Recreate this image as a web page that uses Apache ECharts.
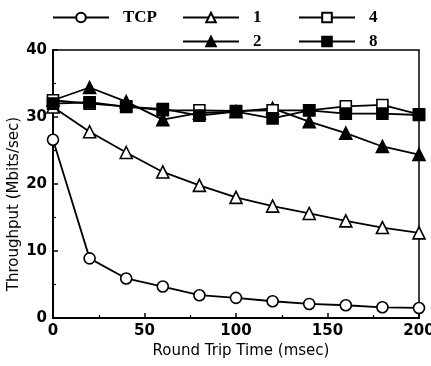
<!DOCTYPE html>
<html>
<head>
<meta charset="utf-8">
<script src="https://cdn.jsdelivr.net/npm/echarts@6/dist/echarts.min.js"></script>
<style>html,body{margin:0;padding:0;background:#fff}#c{width:431px;height:366px}</style>
</head>
<body>
<div id="c"></div>
<script>
var rtt = [0, 20, 40, 60, 80, 100, 120, 140, 160, 180, 200];
var tcp = [26.6, 8.9, 5.9, 4.7, 3.4, 3.0, 2.5, 2.1, 1.9, 1.6, 1.5];
var s1 = [31.5, 27.8, 24.7, 21.8, 19.8, 18.0, 16.7, 15.6, 14.5, 13.5, 12.7];
var s2 = [32.5, 34.4, 32.3, 29.6, 30.6, 30.8, 31.3, 29.3, 27.6, 25.6, 24.4];
var s4 = [32.5, 32.0, 31.6, 31.0, 31.0, 30.9, 31.0, 31.0, 31.6, 31.8, 30.4];
var s8 = [32.0, 32.2, 31.5, 31.2, 30.2, 30.8, 29.8, 31.0, 30.5, 30.5, 30.3];
var seriesNames = ['TCP', '1', '2', '4', '8'];

function pairs(v) { return rtt.map(function (x, i) { return [x, v[i]]; }); }

function mk(name, vals, symbol, open, size) {
  return {
    name: name, type: 'line', data: pairs(vals),
    symbol: symbol, symbolSize: size, showSymbol: true,
    lineStyle: { color: '#000', width: 1.8 },
    itemStyle: { color: open ? '#fff' : '#000', borderColor: '#000', borderWidth: 1.6 },
    emphasis: { disabled: true }, animation: false
  };
}

var legendText = { fontFamily: 'Liberation Serif', fontWeight: 'bold', fontSize: 17, color: '#000', padding: [0, 0, 0, 9] };
function lg(name, left, top) {
  return { data: [name], left: left, top: top, padding: 0, itemWidth: 56, itemHeight: 12,
    textStyle: legendText, selectedMode: false };
}

var chart = echarts.init(document.getElementById('c'), null, { renderer: 'canvas' });
var tickFont = { fontFamily: 'DejaVu Sans', fontWeight: 'bold', fontSize: 15, color: '#000' };
chart.setOption({
  backgroundColor: '#fff',
  animation: false,
  legend: [lg('TCP', 52, 9), lg('1', 182, 9), lg('4', 298, 9), lg('2', 182, 33), lg('8', 298, 33)],
  grid: { left: 53, right: 12, top: 50, bottom: 48, containLabel: false, outerBoundsMode: 'none',
    show: true, borderColor: '#000', borderWidth: 1.5, backgroundColor: 'transparent' },
  xAxis: {
    type: 'value', min: 0, max: 200, interval: 50,
    name: 'Round Trip Time (msec)', nameLocation: 'middle', nameGap: 26, nameMoveOverlap: false,
    nameTextStyle: { fontFamily: 'DejaVu Sans', fontSize: 15, color: '#000', padding: [0, 0, 0, 10] },
    axisLine: { lineStyle: { color: '#000', width: 2 } },
    axisTick: { inside: true, length: 5, lineStyle: { color: '#000', width: 1.5 } },
    minorTick: { show: true, splitNumber: 2, length: 3, lineStyle: { color: '#000', width: 1.2 } },
    axisLabel: Object.assign({ margin: 6 }, tickFont),
    splitLine: { show: false }
  },
  yAxis: {
    type: 'value', min: 0, max: 40, interval: 10,
    name: 'Throughput (Mbits/sec)', nameLocation: 'middle', nameGap: 31, nameMoveOverlap: false,
    nameTextStyle: { fontFamily: 'DejaVu Sans', fontSize: 15, color: '#000', padding: [0, 40, 0, 0] },
    axisLine: { lineStyle: { color: '#000', width: 2 } },
    axisTick: { inside: true, length: 5, lineStyle: { color: '#000', width: 1.5 } },
    minorTick: { show: true, splitNumber: 2, length: 3, lineStyle: { color: '#000', width: 1.2 } },
    axisLabel: Object.assign({ margin: 6 }, tickFont),
    splitLine: { show: false }
  },
  series: [
    mk(seriesNames[0], tcp, 'circle', true, 11),
    mk(seriesNames[1], s1, 'triangle', true, 12),
    mk(seriesNames[2], s2, 'triangle', false, 12),
    mk(seriesNames[3], s4, 'rect', true, 11),
    mk(seriesNames[4], s8, 'rect', false, 11)
  ]
});
</script>
</body>
</html>
